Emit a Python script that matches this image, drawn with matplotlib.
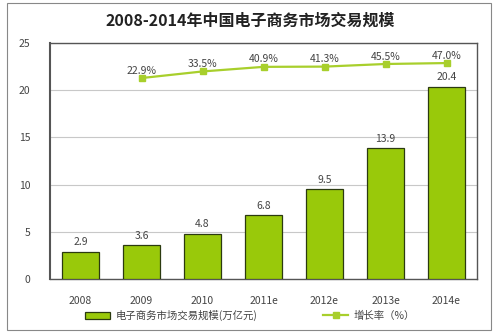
import numpy as np
import matplotlib.pyplot as plt
from matplotlib.patches import Rectangle

plt.rcParams['font.family'] = ['Noto Sans CJK SC', 'DejaVu Sans']

# 数据
years = ['2008', '2009', '2010', '2011e', '2012e', '2013e', '2014e']
scale = [2.9, 3.6, 4.8, 6.8, 9.5, 13.9, 20.4]          # 万亿元
growth_years = years[1:]
growth = [22.9, 33.5, 40.9, 41.3, 45.5, 47.0]          # %

bar_green = '#99c90a'
line_green = '#a8cf2c'

fig = plt.figure(figsize=(5, 3.32), dpi=100)
ax = fig.add_axes([0.1, 0.16, 0.854, 0.71])

x = np.arange(len(years))
ax.bar(x, scale, width=0.62, color=bar_green, edgecolor='#2b3a10', linewidth=0.9,
       label='电子商务市场交易规模(万亿元)', zorder=3)
for xi, v in zip(x, scale):
    ax.text(xi, v + 0.45, f'{v}', ha='center', va='bottom', fontsize=7.5, color='#444444')

ax.set_xlim(-0.5, 6.5)
ax.set_ylim(0, 25)
ax.set_yticks([0, 5, 10, 15, 20, 25])
ax.set_xticks(x)
ax.set_xticklabels(years)
ax.tick_params(axis='both', length=0, labelsize=7.5, colors='#444444', pad=12)
ax.tick_params(axis='y', pad=14)
ax.yaxis.grid(True, color='#c8c8c8', linewidth=0.8, zorder=0)
for s in ax.spines.values():
    s.set_color('#555555')
    s.set_linewidth(1.0)
ax.spines['left'].set_linewidth(1.5)

# 增长率折线（次坐标轴，不显示刻度）
ax2 = ax.twinx()
gx = x[1:]
ax2.plot(gx, growth, color=line_green, linewidth=1.6, marker='s', markersize=5,
         label='增长率（%）', zorder=4)
for xi, g in zip(gx, growth):
    ax2.text(xi, g + 4, f'{g:.1f}%', ha='center', va='bottom', fontsize=7.5, color='#444444')
ax2.set_ylim(-300, 79)
ax2.set_yticks([])
for s in ax2.spines.values():
    s.set_visible(False)

fig.text(0.5, 0.937, '2008-2014年中国电子商务市场交易规模', ha='center', va='center',
         fontsize=11.5, fontweight='bold', color='#222222')

h1, l1 = ax.get_legend_handles_labels()
h2, l2 = ax2.get_legend_handles_labels()
fig.legend(h1 + h2, l1 + l2, loc='center', bbox_to_anchor=(0.5, 0.05), ncol=2,
           frameon=False, fontsize=7.5, columnspacing=6.3, handlelength=2.4,
           handletextpad=0.5, labelcolor='#444444')

fig.add_artist(Rectangle((0.014, 0.005), 0.968, 0.985, transform=fig.transFigure,
                         fill=False, edgecolor='#888888', linewidth=0.8))

fig.savefig('out.png', dpi=100)
